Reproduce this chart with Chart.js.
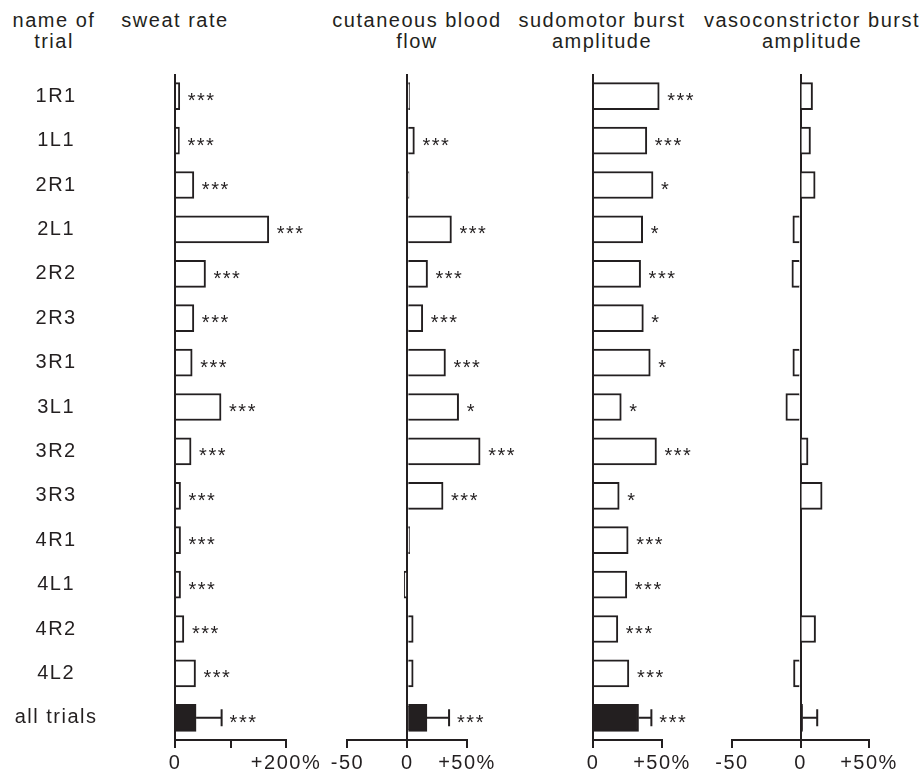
<!DOCTYPE html>
<html>
<head>
<meta charset="utf-8">
<script src="https://cdn.jsdelivr.net/npm/chart.js@4/dist/chart.umd.min.js"></script>
<style>
	body { margin: 0; background: #fff; }
	#page { position: relative; width: 922px; height: 774px; overflow: hidden; }
	#page canvas { position: absolute; top: 0; }
	.head {
		position: absolute; top: 10px; width: 240px; text-align: center;
		font: 20px/21px "Liberation Sans", Arial, sans-serif; letter-spacing: 1.5px; color: #231f20;
	}
</style>
</head>
<body>
<div id="page">
	<div class="head" style="left:-66px">name of<br>trial</div>
	<div class="head" style="left:55px">sweat rate</div>
	<div class="head" style="left:297px">cutaneous blood<br>flow</div>
	<div class="head" style="left:482px">sudomotor burst<br>amplitude</div>
	<div class="head" style="left:692px">vasoconstrictor burst<br>amplitude</div>
	<canvas id="sweat" width="330" height="774" style="left:0"></canvas>
	<canvas id="flow" width="220" height="774" style="left:330px"></canvas>
	<canvas id="sudo" width="162" height="774" style="left:550px"></canvas>
	<canvas id="vaso" width="210" height="774" style="left:712px"></canvas>
</div>
<script>
'use strict';

var trials = ['1R1', '1L1', '2R1', '2L1', '2R2', '2R3', '3R1', '3L1', '3R2', '3R3', '4R1', '4L1', '4R2', '4L2', 'all trials'];

// % change
var sweatRate = [8.5, 8, 34, 169, 55, 34, 31, 83, 29, 10, 10, 10, 16, 37, 38];
var sweatErr = [null, null, null, null, null, null, null, null, null, null, null, null, null, null, 46];
var sweatSig = ['***', '***', '***', '***', '***', '***', '***', '***', '***', '***', '***', '***', '***', '***', '***'];
var sweatTicks = [0, 100, 200];
var sweatTickLabels = ['0', '', '+200%'];

var bloodFlow = [2, 6, 1.5, 37, 17, 13, 32, 43, 61, 30, 2, -2.5, 5, 5, 16.5];
var bloodFlowErr = [null, null, null, null, null, null, null, null, null, null, null, null, null, null, 18.5];
var bloodFlowSig = ['', '***', '', '***', '***', '***', '***', '*', '***', '***', '', '', '', '', '***'];
var bloodFlowTicks = [-50, 0, 50];
var bloodFlowTickLabels = ['-50', '0', '+50%'];

var sudomotor = [48, 39, 43.5, 36, 34.5, 36.5, 41.5, 20.5, 46, 19, 25.5, 24.5, 18, 26, 33];
var sudomotorErr = [null, null, null, null, null, null, null, null, null, null, null, null, null, null, 9.3];
var sudomotorSig = ['***', '***', '*', '*', '***', '*', '*', '*', '***', '*', '***', '***', '***', '***', '***'];
var sudomotorTicks = [0, 50];
var sudomotorTickLabels = ['0', '+50%'];

var vasoconstrictor = [8.8, 7.3, 10.7, -5.6, -6.3, null, -5.6, -10.7, 5.5, 15.8, null, null, 11, -5.1, 1.5];
var vasoconstrictorErr = [null, null, null, null, null, null, null, null, null, null, null, null, null, null, 10.7];
var vasoconstrictorSig = ['', '', '', '', '', '', '', '', '', '', '', '', '', '', ''];
var vasoconstrictorTicks = [-50, 0, 50];
var vasoconstrictorTickLabels = ['-50', '0', '+50%'];

var ink = '#231f20';
var font = '"Liberation Sans", Arial, sans-serif';

// error bar + significance stars after each bar
var marksPlugin = {
	id: 'marks',
	beforeDraw: function (chart) {
		chart.ctx.letterSpacing = '1.5px';
	},
	afterDatasetsDraw: function (chart) {
		var opts = chart.options.plugins.marks;
		var ctx = chart.ctx;
		var xs = chart.scales.x;
		var ys = chart.scales.y;
		ctx.save();
		ctx.strokeStyle = ink;
		ctx.fillStyle = ink;
		ctx.lineWidth = 2;
		ctx.font = '20px ' + font;
		ctx.letterSpacing = '1.5px';
		for (var i = 0; i < opts.values.length; i++) {
			var v = opts.values[i];
			if (v === null) continue;
			var y = ys.getPixelForValue(i);
			var end = xs.getPixelForValue(v);
			if (opts.errors[i]) {
				var xe = xs.getPixelForValue(v + opts.errors[i]);
				ctx.beginPath();
				ctx.moveTo(end, y);
				ctx.lineTo(xe, y);
				ctx.moveTo(xe, y - 8.5);
				ctx.lineTo(xe, y + 8.5);
				ctx.stroke();
				end = xe;
			}
			if (opts.stars[i]) {
				ctx.fillText(opts.stars[i], end + 8, y + 11);
			}
		}
		ctx.restore();
	}
};

function makePanel(el, values, errors, stars, ticks, tickLabels, min, max, padding, showNames) {
	var fills = [];
	for (var i = 0; i < trials.length; i++) {
		fills.push(i === trials.length - 1 ? ink : '#ffffff');
	}
	var yAxis = {
		display: showNames,
		border: { display: false },
		// tickLength only pushes the centred names away from the axis
		grid: { display: false, drawTicks: true, tickLength: 85 },
		ticks: {
			color: ink,
			crossAlign: 'center',
			padding: 0,
			autoSkip: false,
			font: { family: font, size: 20 }
		}
	};
	if (showNames) {
		yAxis.afterFit = function (scale) { scale.width = 175; };
	}
	var config = {
		type: 'bar',
		data: {
			labels: trials,
			datasets: [{
				data: values,
				backgroundColor: fills,
				borderColor: ink,
				borderWidth: 2,
				barThickness: 27,
				clip: false
			}]
		},
		options: {
			indexAxis: 'y',
			responsive: false,
			animation: false,
			layout: { padding: padding },
			plugins: {
				legend: { display: false },
				tooltip: { enabled: false },
				marks: { values: values, errors: errors, stars: stars }
			},
			scales: {
				x: {
					type: 'linear',
					min: min,
					max: max,
					afterBuildTicks: function (scale) {
						scale.ticks = ticks.map(function (t) { return { value: t }; });
					},
					afterFit: function (scale) { scale.height = 34; },
					border: { display: true, color: ink, width: 2 },
					grid: {
						color: function (c) { return c.tick && c.tick.value === 0 ? ink : 'rgba(0,0,0,0)'; },
						lineWidth: 2,
						tickColor: ink,
						tickLength: 8
					},
					ticks: {
						color: ink,
						padding: 3,
						maxRotation: 0,
						autoSkip: false,
						font: { family: font, size: 20 },
						callback: function (value, index) { return tickLabels[index]; }
					}
				},
				y: yAxis
			}
		},
		plugins: [marksPlugin]
	};
	return new Chart(document.getElementById(el), config);
}

makePanel('sweat', sweatRate, sweatErr, sweatSig, sweatTicks, sweatTickLabels, 0, 200,
	{ left: 0, right: 44, top: 74, bottom: 0 }, true);
makePanel('flow', bloodFlow, bloodFlowErr, bloodFlowSig, bloodFlowTicks, bloodFlowTickLabels, -50, 50,
	{ left: 16, right: 83, top: 74, bottom: 0 }, false);
makePanel('sudo', sudomotor, sudomotorErr, sudomotorSig, sudomotorTicks, sudomotorTickLabels, 0, 50,
	{ left: 43, right: 50, top: 74, bottom: 0 }, false);
makePanel('vaso', vasoconstrictor, vasoconstrictorErr, vasoconstrictorSig, vasoconstrictorTicks, vasoconstrictorTickLabels, -50, 50,
	{ left: 20, right: 53, top: 74, bottom: 0 }, false);
</script>
</body>
</html>
